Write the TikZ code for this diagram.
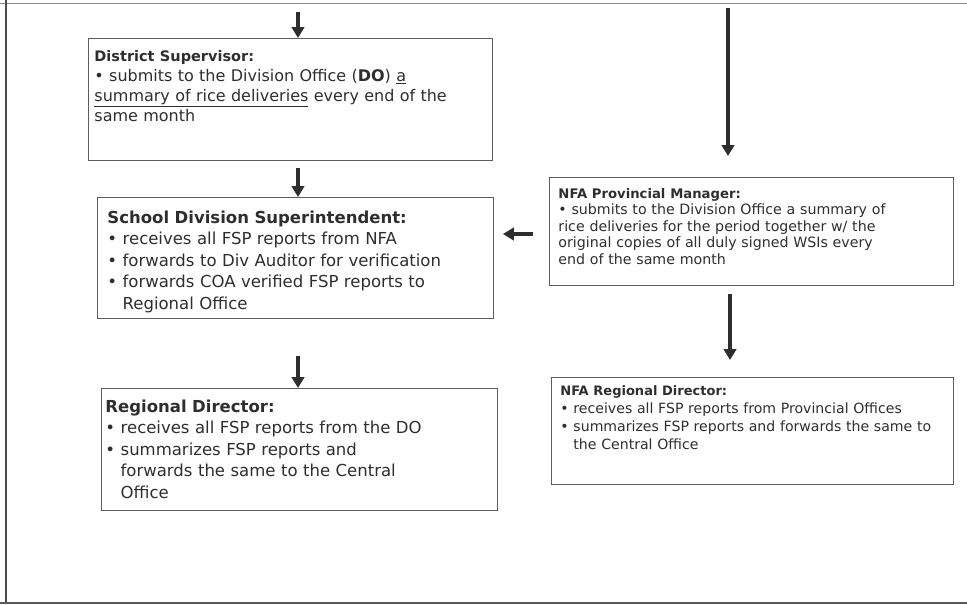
\documentclass[tikz,border=0pt]{standalone}
\usepackage{fontspec}
\setmainfont{DejaVu Sans}
\usetikzlibrary{arrows.meta,calc}
\definecolor{ink}{HTML}{2E2E2E}
\definecolor{rulegray}{HTML}{5C5C5C}
\tikzset{box/.style={draw=rulegray,line width=0.9pt,anchor=north west,align=left,inner ysep=0pt,text=ink},
arr/.style={draw=ink,line width=3.6pt,-{Triangle[width=12.5pt,length=11pt]}}}
\newcommand{\bl}{\textbullet\ }
\newcommand{\ind}{\hphantom{\textbullet\ }}
\newcommand{\hd}[2]{{\fontsize{#1}{10}\selectfont\textbf{#2}}}

\begin{document}
\begin{tikzpicture}[x=1pt,y=-1pt]
\useasboundingbox (0,0) rectangle (967,605);
\draw[black!45,line width=1pt] (0,3)--(967,3);
\draw[black!70,line width=1.2pt] (6,0)--(6,604);
\draw[black!65,line width=1.5pt] (0,603)--(967,603);

\node[box,font=\fontsize{16}{20}\selectfont,inner xsep=6pt,text width=392pt,text height=23pt,text depth=99pt] (ds) at (88,38)
{\hd{14.5}{District Supervisor:}\\ \bl submits to the Division Office (\textbf{DO}) \underline{a}\\
\underline{summary of rice deliveries} every end of the\\ same month};
\node[box,font=\fontsize{16.5}{21.5}\selectfont,inner xsep=10pt,text width=376pt,text height=26pt,text depth=95pt] (sds) at (97,197)
{\hd{16.5}{School Division Superintendent:}\\ \bl receives all FSP reports from NFA\\ \bl forwards to Div Auditor for verification\\
\bl forwards COA verified FSP reports to\\ \ind Regional Office};
\node[box,font=\fontsize{16.5}{21.5}\selectfont,inner xsep=4pt,text width=388pt,text height=24pt,text depth=98pt] (rd) at (101,388)
{\hd{16.5}{Regional Director:}\\ \bl receives all FSP reports from the DO\\ \bl summarizes FSP reports and\\
\ind forwards the same to the Central\\ \ind Office};
\node[box,font=\fontsize{14.2}{16.5}\selectfont,inner xsep=9pt,text width=386pt,text height=21pt,text depth=87pt] (pm) at (549,177)
{\hd{13.2}{NFA Provincial Manager:}\\ \bl submits to the Division Office a summary of\\ rice deliveries for the period together w/ the\\
original copies of all duly signed WSIs every\\ end of the same month};
\node[box,font=\fontsize{14.1}{18}\selectfont,inner xsep=9pt,text width=384pt,text height=18pt,text depth=89pt] (nrd) at (551,377)
{\hd{13}{NFA Regional Director:}\\ \bl receives all FSP reports from Provincial Offices\\ \bl summarizes FSP reports and forwards the same to\\
\ind the Central Office};

\coordinate (lcol) at (298,12);
\coordinate (rcol) at (728,8);
\coordinate (midy) at (0,234);
\draw[arr] (lcol) -- (lcol |- ds.north);
\draw[arr,shorten <=7pt] (lcol |- ds.south) -- (lcol |- sds.north);
\draw[arr,shorten <=37pt] (lcol |- sds.south) -- (lcol |- rd.north);
\draw[arr,shorten >=21pt] (rcol) -- (rcol |- pm.north);
\draw[arr,shorten <=8pt,shorten >=17pt] ([xshift=2pt]rcol |- pm.south) -- ([xshift=2pt]rcol |- nrd.north);
\draw[arr,shorten <=16pt,shorten >=9pt] (pm.west |- midy) -- (sds.east |- midy);
\end{tikzpicture}
\end{document}
